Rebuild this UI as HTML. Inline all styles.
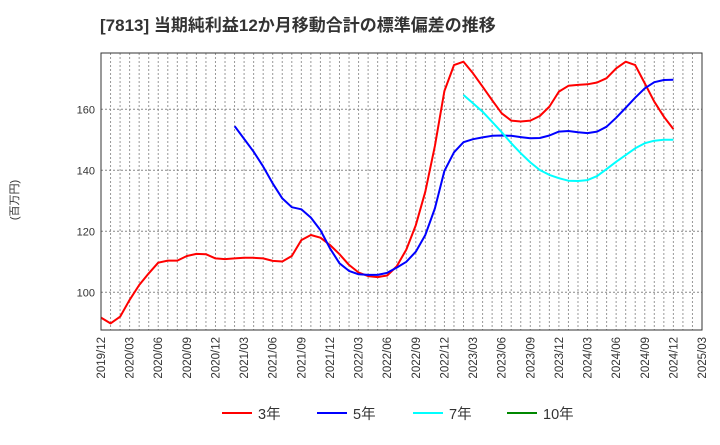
<!DOCTYPE html>
<html><head><meta charset="utf-8"><style>
body{margin:0;background:#fff;}
svg text{font-family:"Liberation Sans","Noto Sans CJK JP",sans-serif;}
</style></head><body>
<svg id="c" width="720" height="440" xmlns="http://www.w3.org/2000/svg">
<text x="100" y="31" font-size="17" font-weight="bold" fill="#333">[7813]  当期純利益12か月移動合計の標準偏差の推移</text>
<text transform="translate(18,200) rotate(-90)" font-size="11" text-anchor="middle" fill="#333">(百万円)</text>
<g id="grid"></g><g id="ticks"></g><g id="series"></g>
<rect x="101" y="53" width="601" height="277" fill="none" stroke="#333" stroke-width="1"/>
<g>
<line x1="222" y1="413" x2="252" y2="413" stroke="#f00" stroke-width="2"/><text x="258" y="419" font-size="14.5" fill="#333">3年</text>
<line x1="317" y1="413" x2="347" y2="413" stroke="#00f" stroke-width="2"/><text x="353" y="419" font-size="14.5" fill="#333">5年</text>
<line x1="413" y1="413" x2="443" y2="413" stroke="#0ff" stroke-width="2"/><text x="449" y="419" font-size="14.5" fill="#333">7年</text>
<line x1="507" y1="413" x2="537" y2="413" stroke="#080" stroke-width="2"/><text x="543" y="419" font-size="14.5" fill="#333">10年</text>
</g>
</svg>
<script>
const xLabels=["2019/12","2020/03","2020/06","2020/09","2020/12","2021/03","2021/06","2021/09","2021/12","2022/03","2022/06","2022/09","2022/12","2023/03","2023/06","2023/09","2023/12","2024/03","2024/06","2024/09","2024/12","2025/03"];
const yTicks=[100,120,140,160];
const s3=[91.7,89.8,92,97.5,102.4,106.2,109.7,110.4,110.4,111.9,112.6,112.5,111.1,110.9,111.1,111.3,111.3,111.1,110.3,110.1,111.9,117.1,118.8,117.9,115.5,112.5,109,106.5,105.3,105,105.5,108.5,114,122,133,148,166,174.5,175.6,171.8,167.4,163,158.7,156.3,156,156.3,157.8,160.9,165.8,167.7,168,168.2,168.8,170.2,173.4,175.6,174.5,168.5,162.5,157.6,153.5];
const s5=[null,null,null,null,null,null,null,null,null,null,null,null,null,null,154.5,150.3,146.1,141.2,135.7,130.8,127.9,127.2,124.5,120.4,114.4,109.5,107,105.9,105.7,105.7,106.4,108.1,110,113.3,118.8,127.5,139.8,145.9,149.2,150.2,150.8,151.3,151.4,151.3,150.9,150.5,150.6,151.4,152.7,152.9,152.5,152.2,152.7,154.3,157.2,160.5,163.8,166.9,168.9,169.6,169.7];
const s7=[null,null,null,null,null,null,null,null,null,null,null,null,null,null,null,null,null,null,null,null,null,null,null,null,null,null,null,null,null,null,null,null,null,null,null,null,null,null,164.7,162,159.2,155.9,152.5,148.9,145.6,142.6,140.1,138.5,137.4,136.6,136.5,136.8,138.1,140.4,142.8,145,147.2,148.9,149.7,150,150];
const s10=[];
const NS="http://www.w3.org/2000/svg";
const X0=101,X1=702,Y0=53,Y1=330,NM=63;
const xs=i=>X0+i*(X1-X0)/NM;
const ys=v=>292.3-(v-100)*3.05;
function mk(t,a,p){const e=document.createElementNS(NS,t);for(const k in a)e.setAttribute(k,a[k]);p.appendChild(e);return e;}
const grid=document.getElementById('grid'),ticks=document.getElementById('ticks'),ser=document.getElementById('series');
for(let m=1;m<NM;m++){const l=mk('line',{x1:xs(m),x2:xs(m),y1:Y0,y2:Y1,stroke:'#999','stroke-width':1,'stroke-dasharray':'2,2'},grid);

}
yTicks.forEach(v=>{const l=mk('line',{x1:X0,x2:X1,y1:ys(v),y2:ys(v),stroke:'#888','stroke-width':1,'stroke-dasharray':'2,2'},grid);


const t=mk('text',{x:X0-6,y:ys(v)+4,'font-size':11,'text-anchor':'end',fill:'#333'},ticks);t.textContent=v;

});
xLabels.forEach((s,i)=>{const x=xs(i*3);const t=mk('text',{transform:`translate(${x+4},337) rotate(-90)`,'font-size':11.5,'text-anchor':'end',fill:'#333'},ticks);t.textContent=s;

});
function line(d,c,n){let p='';d.forEach((v,i)=>{if(v==null)return;p+=(p?'L':'M')+xs(i).toFixed(1)+','+ys(v).toFixed(1);});
if(!p)return;const e=mk('path',{d:p,fill:'none',stroke:c,'stroke-width':2,'stroke-linejoin':'round'},ser);

}
line(s3,'#f00','series-3y');line(s5,'#00f','series-5y');line(s7,'#0ff','series-7y');line(s10,'#080','series-10y');
</script>
</body></html>
